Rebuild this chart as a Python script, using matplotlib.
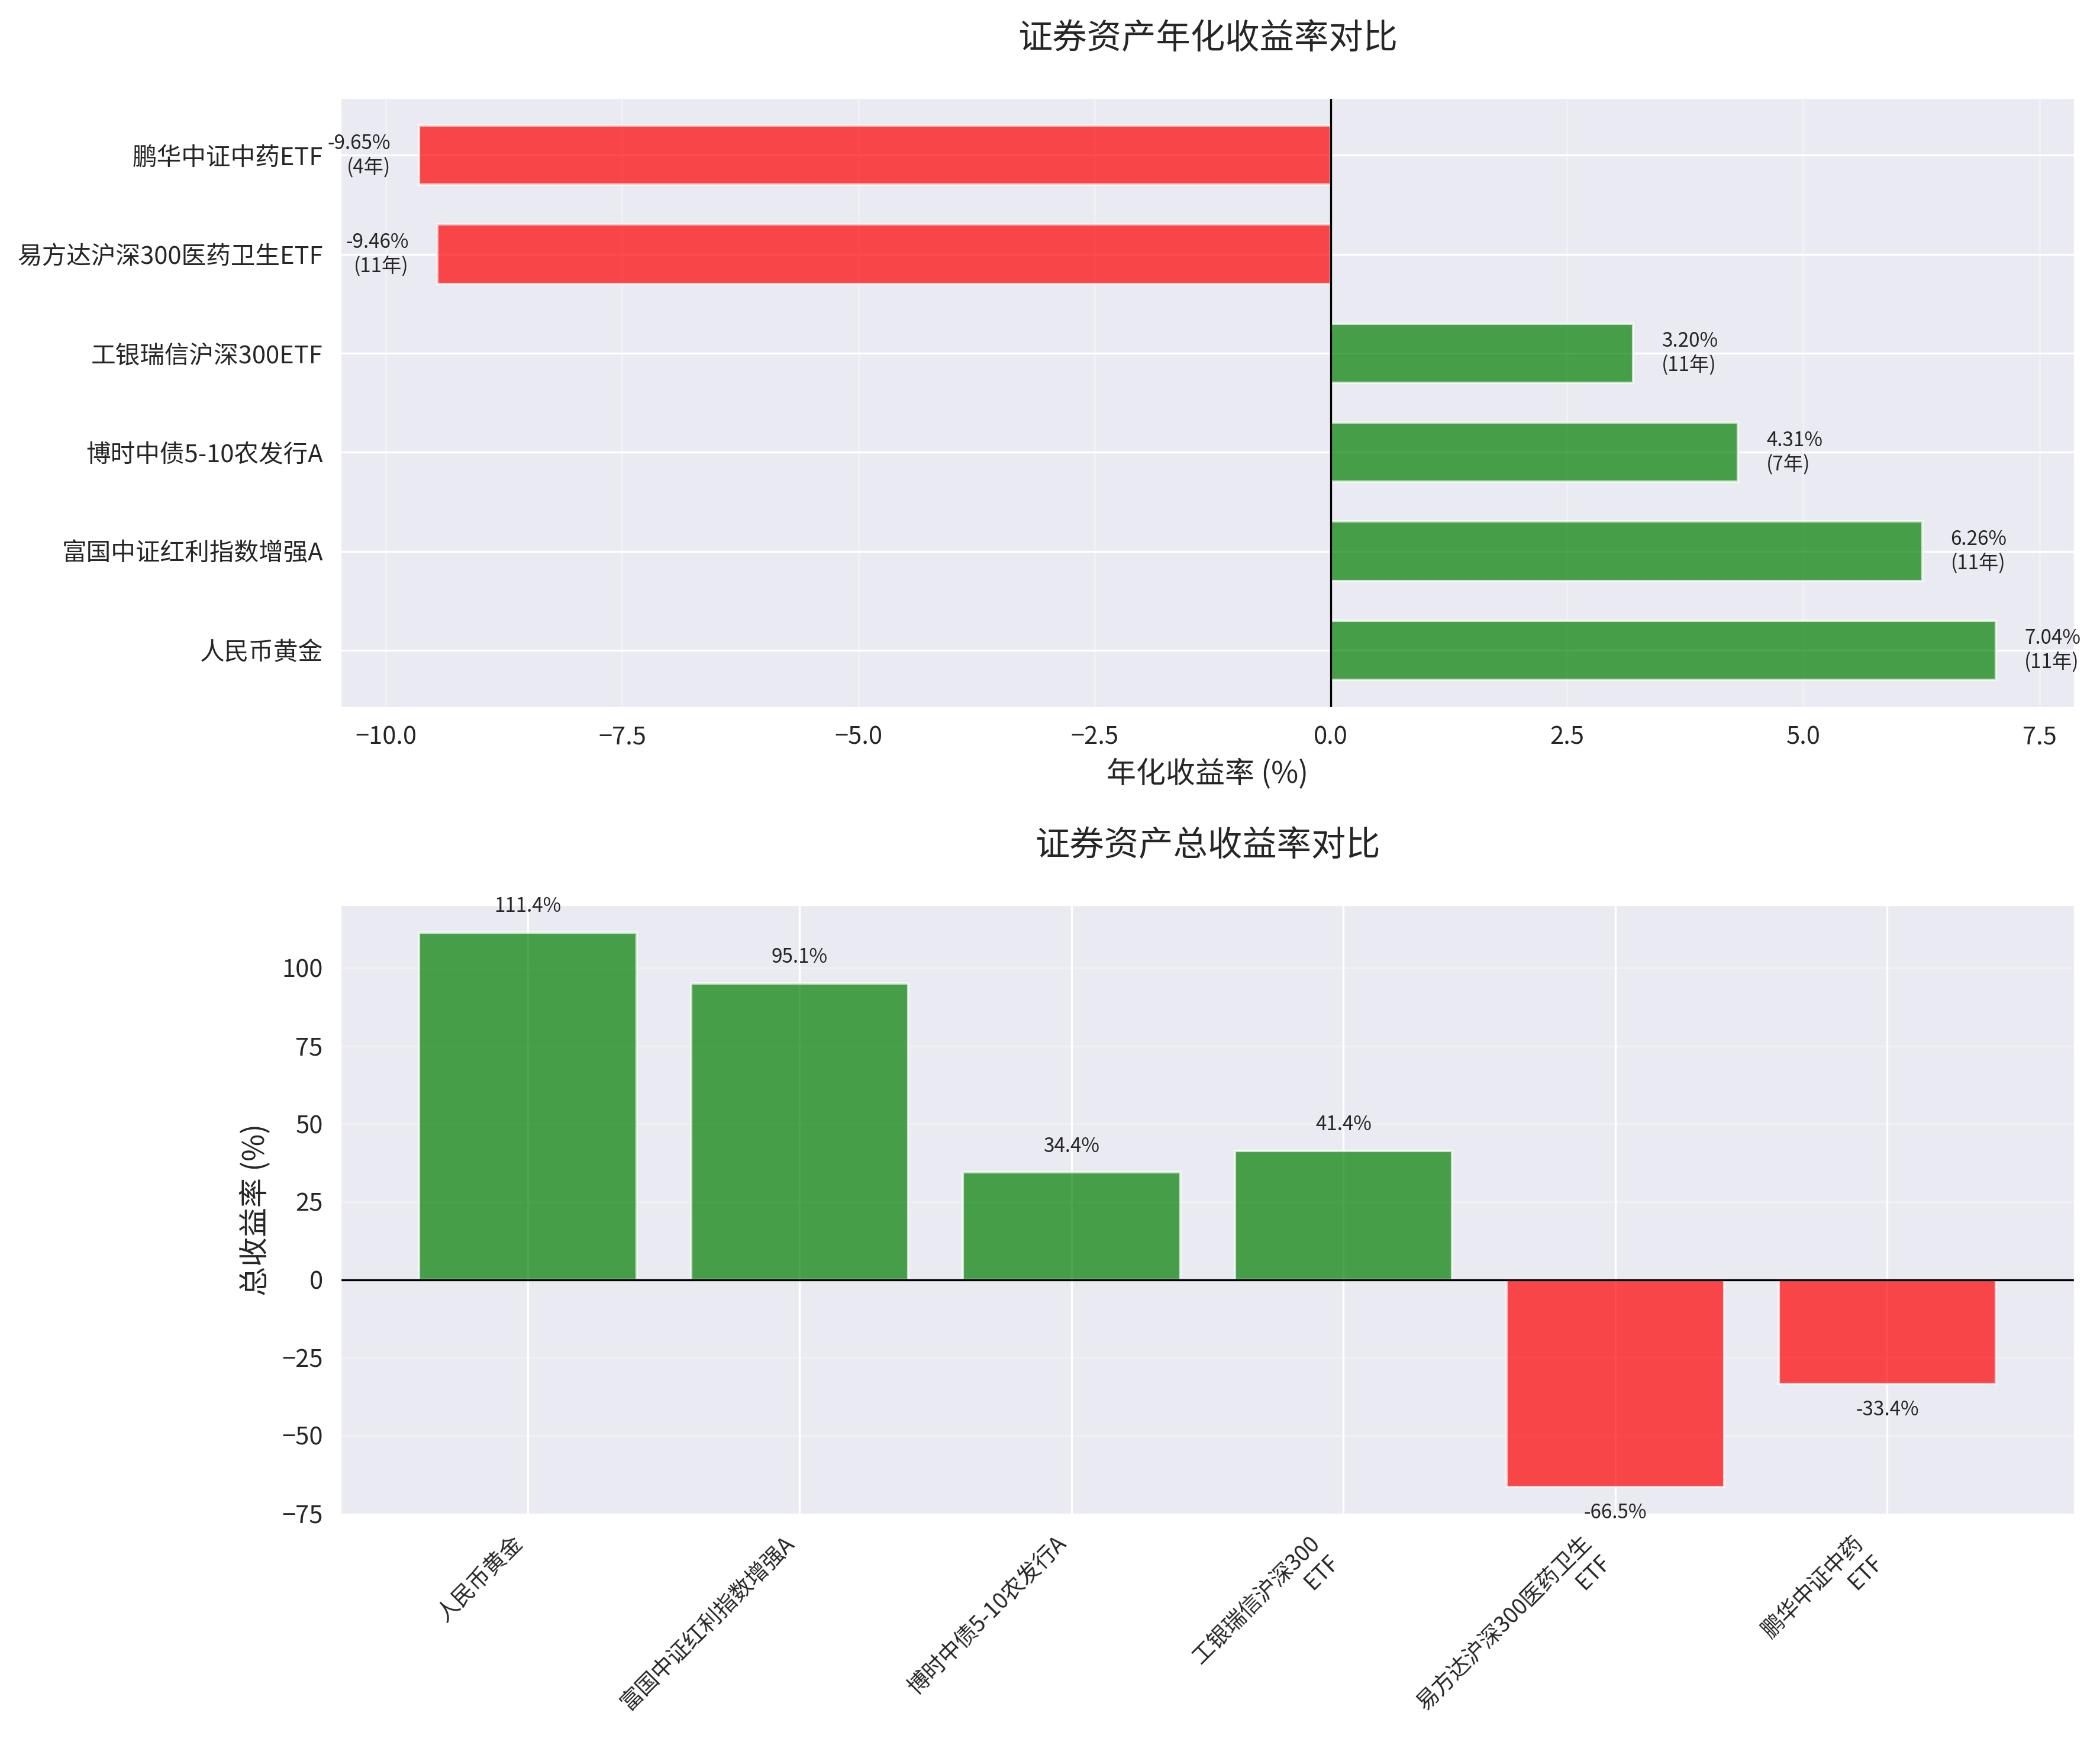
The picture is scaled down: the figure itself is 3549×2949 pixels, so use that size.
import numpy as np
import matplotlib
matplotlib.use("Agg")
import matplotlib.pyplot as plt
import seaborn as sns

sns.set_style("darkgrid")
plt.rcParams['font.family'] = ['Noto Sans CJK SC', 'DejaVu Sans']

# data
names = ["人民币黄金", "富国中证红利指数增强A", "博时中债5-10农发行A",
         "工银瑞信沪深300ETF", "易方达沪深300医药卫生ETF", "鹏华中证中药ETF"]
annual_returns = [7.04, 6.26, 4.31, 3.20, -9.46, -9.65]
years = [11, 11, 7, 11, 11, 4]
total_returns = [111.4, 95.1, 34.4, 41.4, -66.5, -33.4]

fig, (ax1, ax2) = plt.subplots(2, 1, figsize=(11.83, 9.83), dpi=300)
fig.subplots_adjust(left=0.162, right=0.988, top=0.944, bottom=0.132, hspace=0.323)

# annualized return, horizontal bars
colors1 = ['green' if r > 0 else 'red' for r in annual_returns]
y = np.arange(len(names))
ax1.barh(y, annual_returns, color=colors1, alpha=0.7, height=0.6)
ax1.set_yticks(y)
ax1.set_yticklabels(names, fontsize=10)
ax1.set_xlabel("年化收益率 (%)", fontsize=12)
ax1.set_title("证券资产年化收益率对比", fontsize=14, fontweight='medium', pad=20)
ax1.axvline(x=0, color='black', linewidth=0.8)
ax1.grid(axis='x', alpha=0.3)
ax1.tick_params(axis='x', labelsize=10)
for i, (r, yr) in enumerate(zip(annual_returns, years)):
    if r > 0:
        ax1.text(r + 0.3, i, f"{r:.2f}%\n({yr}年)", ha='left', va='center', fontsize=8)
    else:
        ax1.text(r - 0.3, i, f"{r:.2f}%\n({yr}年)", ha='right', va='center', fontsize=8)

# total return, vertical bars
colors2 = ['green' if r > 0 else 'red' for r in total_returns]
x = np.arange(len(names))
ax2.bar(x, total_returns, color=colors2, alpha=0.7, width=0.8)
ax2.set_xticks(x)
ax2.set_xticklabels([n.replace("ETF", "\nETF") for n in names], rotation=45, ha='right', fontsize=9)
ax2.set_ylabel("总收益率 (%)", fontsize=12)
ax2.set_title("证券资产总收益率对比", fontsize=14, fontweight='medium', pad=20)
ax2.axhline(y=0, color='black', linewidth=0.8)
ax2.grid(axis='y', alpha=0.3)
ax2.tick_params(axis='y', labelsize=10)
for i, r in enumerate(total_returns):
    if r > 0:
        ax2.text(i, r + 5, f"{r:.1f}%", ha='center', va='bottom', fontsize=8)
    else:
        ax2.text(i, r - 5, f"{r:.1f}%", ha='center', va='top', fontsize=8)

fig.savefig("out.png", dpi=300)
